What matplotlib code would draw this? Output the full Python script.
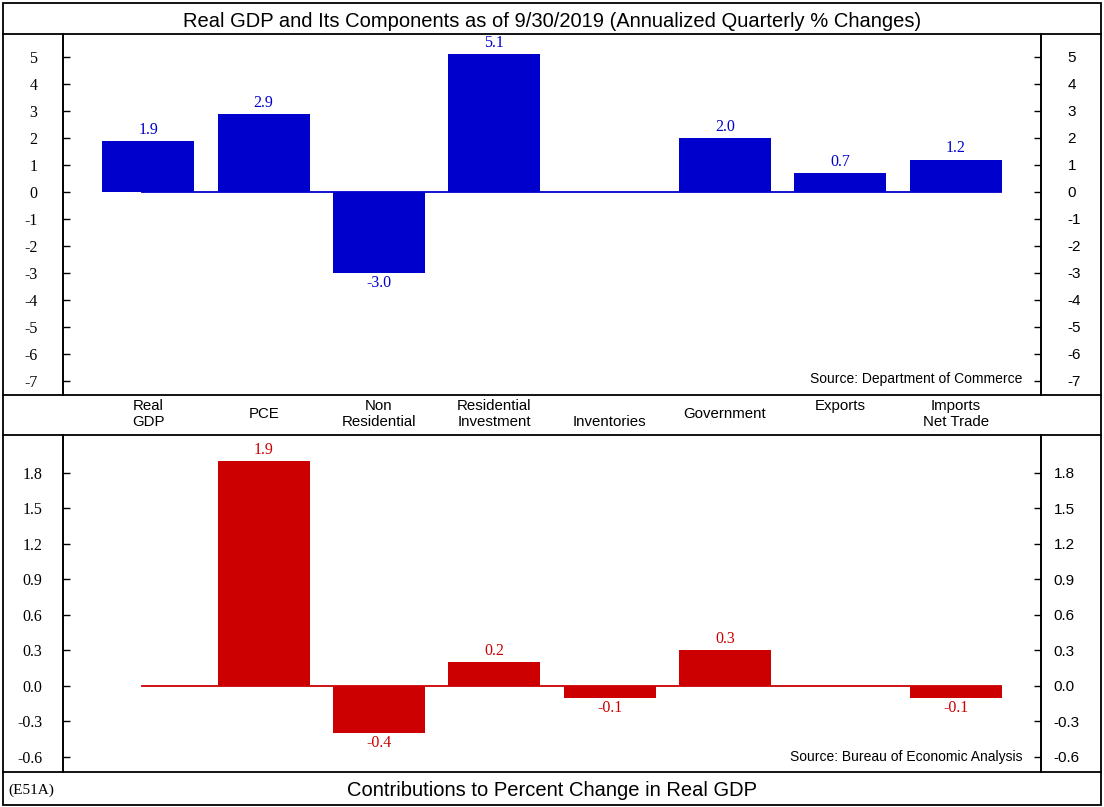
import numpy as np
import matplotlib
matplotlib.use("Agg")
import matplotlib.pyplot as plt
from matplotlib.lines import Line2D
from matplotlib.patches import Rectangle

plt.rcParams['axes.unicode_minus'] = False

categories = ["Real\nGDP", "PCE", "Non\nResidential", "Residential\nInvestment",
              " \nInventories", "Government", "Exports\n ", "Imports\nNet Trade"]
gdp_changes = [1.9, 2.9, -3.0, 5.1, np.nan, 2.0, 0.7, 1.2]
contributions = [np.nan, 1.9, -0.4, 0.2, -0.1, 0.3, np.nan, -0.1]
top_ticks = list(range(-7, 6))
bottom_ticks = [-0.6, -0.3, 0.0, 0.3, 0.6, 0.9, 1.2, 1.5, 1.8]

title_top = "Real GDP and Its Components as of 9/30/2019 (Annualized Quarterly % Changes)"
title_bottom = "Contributions to Percent Change in Real GDP"
source_top = "Source: Department of Commerce"
source_bottom = "Source: Bureau of Economic Analysis"
code_label = "(E51A)"

BLUE = "#0000CC"
RED = "#CC0000"
SANS = "Liberation Sans"
SERIF = "Liberation Serif"

W, H = 1104, 807
fig = plt.figure(figsize=(W / 100, H / 100), dpi=100)


def fx(px):
    return px / W


def fy(py):
    return 1 - py / H


def add_axes_px(left, top, right, bottom):
    return fig.add_axes([fx(left), fy(bottom), fx(right - left), (bottom - top) / H])


ax1 = add_axes_px(63, 34, 1041, 395)
ax2 = add_axes_px(63, 435, 1041, 772)

x = np.arange(len(categories))


def style_axis(ax, ticks, ylim, fmt, lpad, rpad):
    ax.set_xlim(-0.74, len(categories) - 1 + 0.74)
    ax.set_ylim(*ylim)
    ax.set_xticks([])
    ax.set_yticks(ticks)
    ax.set_yticklabels([fmt % t for t in ticks], family=SERIF, fontsize=11.5)
    ax.tick_params(axis='y', direction='in', length=5, width=1, pad=lpad, colors='black')
    for s in ['top', 'bottom']:
        ax.spines[s].set_visible(False)
    for s in ['left', 'right']:
        ax.spines[s].set_linewidth(1.2)
    axr = ax.twinx()
    axr.set_ylim(*ylim)
    axr.set_yticks(ticks)
    axr.set_yticklabels([fmt % t for t in ticks], family=SANS, fontsize=11)
    axr.tick_params(axis='y', direction='in', length=5, width=1, pad=rpad)
    for s in ['top', 'bottom']:
        axr.spines[s].set_visible(False)
    for s in ['left', 'right']:
        axr.spines[s].set_linewidth(1.2)
    return axr


style_axis(ax1, top_ticks, (-7.52, 5.85), "%d", 18.5, 19)
style_axis(ax2, bottom_ticks, (-0.727, 2.12), "%.1f", 15, 9)

# Bars
ax1.bar(x, gdp_changes, width=0.8, color=BLUE, zorder=2)
ax2.bar(x, contributions, width=0.8, color=RED, zorder=2)
ax1.axhline(0, xmin=0.081, xmax=0.959, color=BLUE, lw=1.3, zorder=3)
ax2.axhline(0, xmin=0.081, xmax=0.959, color=RED, lw=1.3, zorder=3)

for ax, vals, col in [(ax1, gdp_changes, BLUE), (ax2, contributions, RED)]:
    for xi, v in zip(x, vals):
        if np.isnan(v):
            continue
        off = 8 if v >= 0 else -7
        ax.annotate("%.1f" % v, (xi, v), xytext=(0, off), textcoords='offset points',
                    ha='center', va='center', color=col, family=SERIF, fontsize=11.5,
                    zorder=5)

ax1.text((1022 - 63) / 978, (395 - 379) / 361, source_top, transform=ax1.transAxes,
         ha='right', va='center', family=SANS, fontsize=10)
ax2.text((1022 - 63) / 978, (772 - 757) / 337, source_bottom, transform=ax2.transAxes,
         ha='right', va='center', family=SANS, fontsize=10)

# Category labels row
for xi, lab in zip(x, categories):
    px = 63 + (xi + 0.74) / (len(categories) - 1 + 1.48) * 978
    fig.text(fx(px), fy(414), lab, ha='center', va='center', family=SANS,
             fontsize=10.8, linespacing=1.2)

# Titles
fig.text(0.5, fy(21.5), title_top, ha='center', va='center', family=SANS, fontsize=14.5)
fig.text(0.5, fy(790), title_bottom, ha='center', va='center', family=SANS, fontsize=14.5)
fig.text(fx(8), fy(790), code_label, ha='left', va='center', family=SERIF, fontsize=11)

# Frame lines
fig.add_artist(Rectangle((fx(2.5), fy(804.5)), fx(1098.5), (802) / H, transform=fig.transFigure,
                         fill=False, edgecolor='black', lw=1.3))
for py in [34, 395, 435, 772]:
    fig.add_artist(Line2D([fx(2.5), fx(1101)], [fy(py), fy(py)], transform=fig.transFigure,
                          color='black', lw=1.3))

fig.savefig("out.png", dpi=100)
